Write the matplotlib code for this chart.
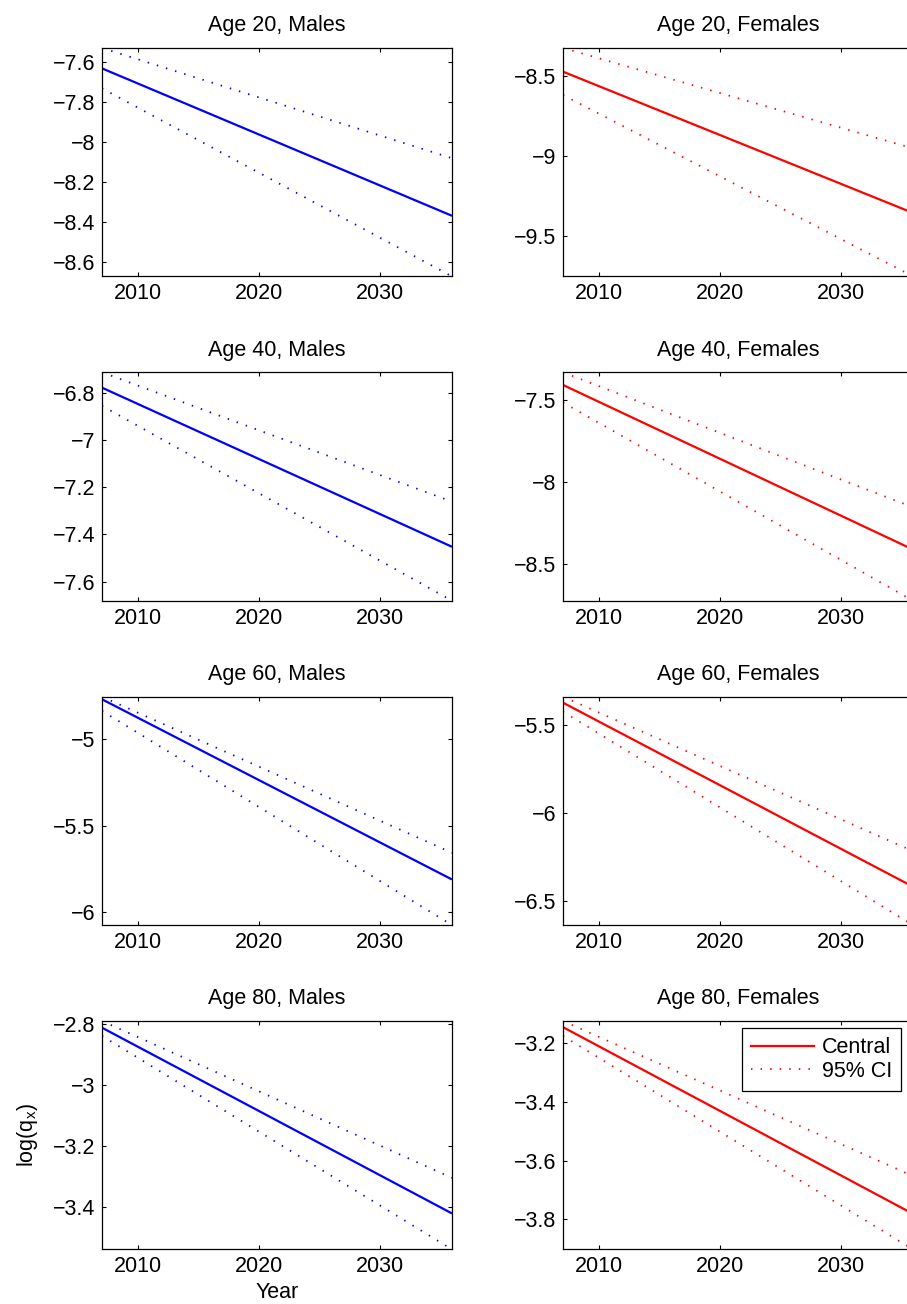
import matplotlib
matplotlib.use("Agg")
import matplotlib.pyplot as plt
from matplotlib.ticker import FuncFormatter
from matplotlib.lines import Line2D

plt.rcParams['font.family'] = ['Liberation Sans', 'DejaVu Sans']

# ---- data ----
years = [2007, 2036]

ages = [20, 40, 60, 80]

male_central = [[-7.630, -8.367], [-6.779, -7.452], [-4.771, -5.810], [-2.811, -3.421]]
male_upper   = [[-7.528, -8.079], [-6.714, -7.261], [-4.756, -5.656], [-2.789, -3.304]]
male_lower   = [[-7.730, -8.670], [-6.856, -7.680], [-4.838, -6.073], [-2.838, -3.539]]

female_central = [[-8.473, -9.357], [-7.409, -8.410], [-5.373, -6.418], [-3.145, -3.781]]
female_upper   = [[-8.325, -8.953], [-7.332, -8.153], [-5.339, -6.216], [-3.124, -3.652]]
female_lower   = [[-8.619, -9.754], [-7.516, -8.721], [-5.424, -6.636], [-3.175, -3.902]]

male_yticks = [[-8.6, -8.4, -8.2, -8.0, -7.8, -7.6],
               [-7.6, -7.4, -7.2, -7.0, -6.8],
               [-6.0, -5.5, -5.0],
               [-3.4, -3.2, -3.0, -2.8]]
female_yticks = [[-9.5, -9.0, -8.5],
                 [-8.5, -8.0, -7.5],
                 [-6.5, -6.0, -5.5],
                 [-3.8, -3.6, -3.4, -3.2]]
xticks = [2010, 2020, 2030]

# ---- layout ----
W, H = 907, 1304
fig = plt.figure(figsize=(W / 100, H / 100), dpi=100)

col_x = [102, 563]
ax_w = 350
row_top = [48, 372.3, 696.7, 1021]
ax_h = 228.4

FS = 15.5
fmt = FuncFormatter(lambda v, p: ('%g' % v).replace('-', '\u2212'))

def make_ax(col, row):
    x0 = col_x[col] / W
    y0 = 1 - (row_top[row] + ax_h) / H
    ax = fig.add_axes([x0, y0, ax_w / W, ax_h / H])
    for s in ax.spines.values():
        s.set_linewidth(0.9)
    ax.tick_params(direction='in', top=True, right=True, length=3, width=0.8,
                   labelsize=FS, pad=5)
    ax.set_xticks(xticks)
    ax.yaxis.set_major_formatter(fmt)
    return ax

dot = (0, (0.8, 4.5))
DOT_LW = 1.3

for i, age in enumerate(ages):
    for col, (cen, up, lo, color, sex, yt) in enumerate([
            (male_central[i], male_upper[i], male_lower[i], 'blue', 'Males', male_yticks[i]),
            (female_central[i], female_upper[i], female_lower[i], 'red', 'Females', female_yticks[i])]):
        ax = make_ax(col, i)
        ax.plot(years, cen, color=color, lw=1.6, solid_capstyle='butt')
        ax.plot(years, up, color=color, lw=DOT_LW, linestyle=dot)
        ax.plot(years, lo, color=color, lw=DOT_LW, linestyle=dot)
        ax.set_xlim(years[0], years[-1])
        ax.set_ylim(min(lo), max(up))
        ax.set_yticks(yt)
        ax.set_title('Age %d, %s' % (age, sex), fontsize=FS, pad=12)
        if col == 0 and i == 3:
            ax.set_xlabel('Year', fontsize=FS, labelpad=3)
            ax.set_ylabel(r'log(q$_\mathregular{x}$)', fontsize=FS, labelpad=9)
        if col == 1 and i == 3:
            handles = [Line2D([], [], color='red', lw=1.6),
                       Line2D([], [], color='red', lw=DOT_LW, linestyle=dot)]
            leg = fig.legend(handles, ['Central', '95% CI'], loc='upper left',
                             bbox_to_anchor=(741.7 / W, 1 - 1028.3 / H),
                             fontsize=FS, frameon=True, fancybox=False,
                             edgecolor='black', framealpha=1,
                             handlelength=2.95, handletextpad=0.35,
                             borderpad=0.42, labelspacing=0.12, borderaxespad=0)
            leg.get_frame().set_linewidth(0.9)

fig.savefig('out.png', dpi=100)
